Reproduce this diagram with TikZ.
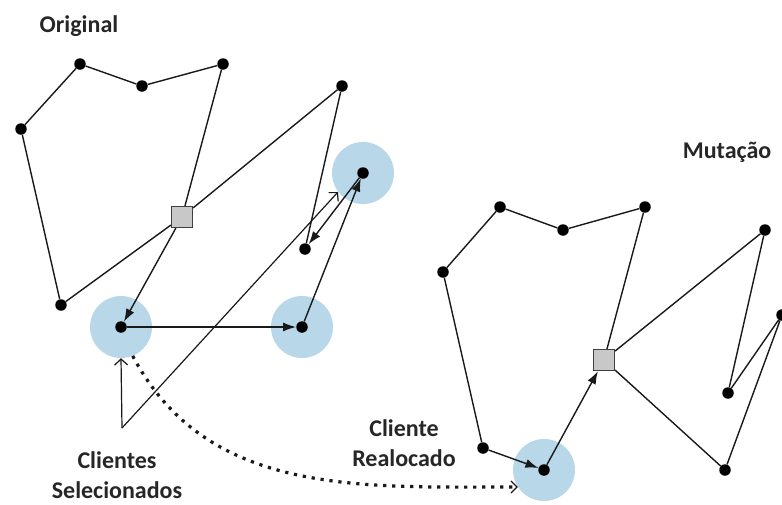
\documentclass[tikz,border=0pt]{standalone}
\usepackage{fontspec}
\setmainfont{Carlito}
\usepackage{xcolor}
\usetikzlibrary{arrows.meta}

\definecolor{halo}{RGB}{184,215,233}
\definecolor{depotgray}{RGB}{200,200,200}

\begin{document}
\begin{tikzpicture}[x=1pt, y=-1pt,
    dot/.style={circle, fill=black, inner sep=0pt, minimum size=11.5pt},
    depot/.style={rectangle, draw=black!75, fill=depotgray, line width=1.2pt, inner sep=0pt, minimum size=21pt},
    zone/.style={circle, fill=halo, inner sep=0pt, minimum size=62pt},
    route/.style={line width=1.4pt, black!90},
    move/.style={route, -{Latex[length=13pt, width=9pt]}},
    point/.style={line width=1.2pt, black!90, -{Straight Barb[length=6pt, width=13pt]}},
    caption/.style={font=\fontsize{24}{30}\selectfont\bfseries, text=black!85, align=center}]
        \useasboundingbox (0, 0) rectangle (782, 504);

        % selected / relocated clients
        \node[zone] (hs1) at (121, 327) {};
        \node[zone] (hs2) at (302, 327) {};
        \node[zone] (hs3) at (363, 173) {};
        \node[zone] (hr) at (544, 470) {};

        % original route
        \node[dot] (a) at (80, 64) {};
        \node[dot] (b) at (142, 86) {};
        \node[dot] (c) at (223, 64) {};
        \node[dot] (d) at (21, 129) {};
        \node[dot] (e) at (342, 86) {};
        \node[dot] (f) at (61, 305) {};
        \node[dot] (g) at (305, 249) {};
        \node[dot] (s) at (121, 327) {};
        \node[dot] (t) at (302, 327) {};
        \node[dot] (u) at (363, 173) {};
        \node[depot] (o) at (182, 217) {};

        \draw[route] (d) to (a)
            (a) to (b)
            (b) to (c)
            (c) to (o)
            (o) to (e)
            (e) to (g)
            (d) to (f)
            (f) to (o);
        \draw[move] (o) to (s);
        \draw[move] (s) to (t);
        \draw[move] (t) to (u);
        \draw[move] (u) to (g);

        % mutated route
        \node[dot] (h) at (500, 207) {};
        \node[dot] (i) at (563, 230) {};
        \node[dot] (j) at (645, 207) {};
        \node[dot] (k) at (443, 272) {};
        \node[dot] (l) at (765, 230) {};
        \node[dot] (m) at (782, 315) {};
        \node[dot] (n) at (728, 393) {};
        \node[dot] (p) at (483, 448) {};
        \node[dot] (q) at (725, 470) {};
        \node[dot] (r) at (544, 470) {};
        \node[depot] (w) at (604, 360) {};

        \draw[route] (k) to (h)
            (h) to (i)
            (i) to (j)
            (j) to (w)
            (w) to (l)
            (l) to (n)
            (n) to (m)
            (m) to (q)
            (q) to (w)
            (k) to (p);
        \draw[move] (p) to (r);
        \draw[move] (r) to (w);

        % labels
        \node[caption, anchor=base] (orig) at (79, 32) {Original};
        \node[caption, anchor=base] (mut) at (727, 158) {Mutação};
        \node[caption] (sel) at (117, 475) {Clientes\\Selecionados};
        \node[caption] (rel) at (404, 443) {Cliente\\Realocado};

        \coordinate (ptr) at (122, 428);
        \coordinate (tip) at (338, 192);
        \draw[point] (ptr) to (hs1.south);
        \draw[point] (ptr) to (tip);
        \draw[line width=3.2pt, black!90, dash pattern=on 3.2pt off 5.8pt,
            -{Straight Barb[length=6pt, width=12pt, line width=1.2pt]}]
            (hs1.-68) to[out=-62, in=180] (hr.213);
\end{tikzpicture}
\end{document}
